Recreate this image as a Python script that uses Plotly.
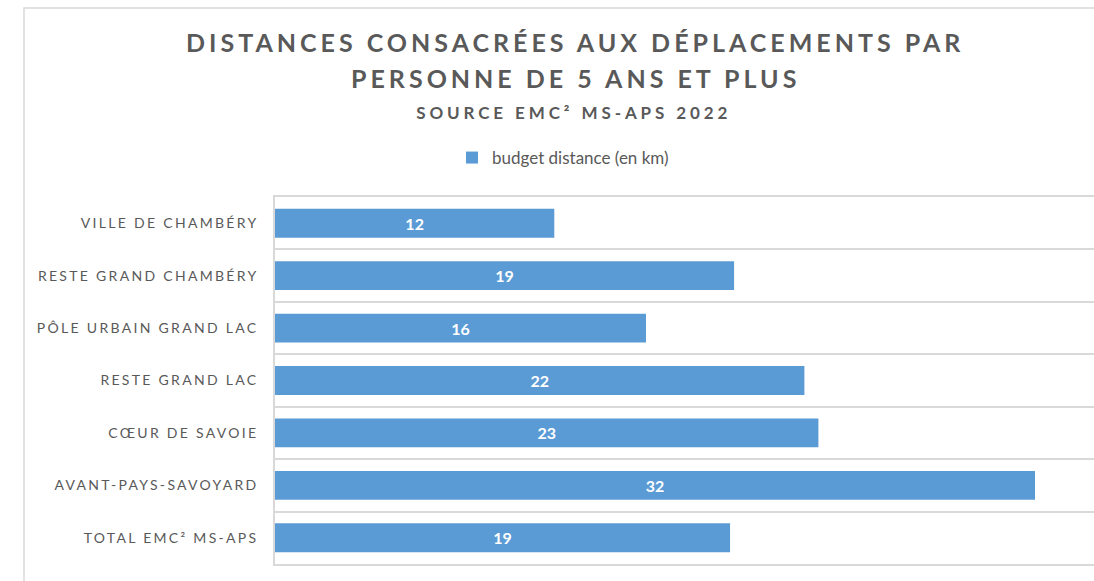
import plotly.graph_objects as go

categories = [
    "VILLE DE CHAMBÉRY",
    "RESTE GRAND CHAMBÉRY",
    "PÔLE URBAIN GRAND LAC",
    "RESTE GRAND LAC",
    "CŒUR DE SAVOIE",
    "AVANT-PAYS-SAVOYARD",
    "TOTAL EMC² MS-APS",
]
budget_km = [11.76, 19.33, 15.62, 22.29, 22.88, 32.0, 19.16]
series_name = "budget distance (en km)"
title_lines = ["DISTANCES CONSACRÉES AUX DÉPLACEMENTS PAR", "PERSONNE DE 5 ANS ET PLUS"]
subtitle = "SOURCE EMC² MS-APS 2022"

W, H = 1094, 581
L, T, B = 275, 197, 17
pw = W - L
ph = H - T - B

def px_x(x):
    return (x - L) / pw

def px_y(y):
    return 1 - (y - T) / ph

grey = "#595959"
font_family = "Lato, 'Open Sans', sans-serif"

fig = go.Figure()
fig.add_trace(go.Bar(
    y=categories, x=budget_km, orientation="h", name=series_name,
    marker=dict(color="#5B9BD5", line=dict(width=0)),
    texttemplate="%{x:.0f}", textposition="inside", insidetextanchor="middle",
    textfont=dict(color="white", size=16, family=font_family, weight="bold"),
    showlegend=True, hoverinfo="skip",
))

fig.update_layout(
    width=W, height=H,
    margin=dict(l=L, r=0, t=T, b=B, pad=0),
    paper_bgcolor="white", plot_bgcolor="white",
    bargap=0.45,
    font=dict(family=font_family, color=grey),
    showlegend=True,
    legend=dict(orientation="h", x=px_x(452), xanchor="left", y=px_y(158), yanchor="middle",
                font=dict(size=17, color=grey, family=font_family),
                itemwidth=30, bgcolor="rgba(0,0,0,0)"),
    xaxis=dict(range=[0, pw / 23.75], showgrid=False, showticklabels=False, zeroline=False,
               showline=True, mirror=True, linecolor="#D9D9D9", linewidth=1.5,
               ticks="", fixedrange=True),
    yaxis=dict(type="category", autorange="reversed", tickson="boundaries",
               showgrid=True, gridcolor="#D9D9D9", gridwidth=1.5,
               showline=True, linecolor="#D9D9D9", linewidth=1.5,
               ticks="", ticklabelstandoff=12, fixedrange=True,
               tickfont=dict(size=14, color=grey, family=font_family)),
)

fig.add_annotation(text=title_lines[0], xref="paper", yref="paper", x=px_x(575), y=px_y(42),
                   showarrow=False, xanchor="center", yanchor="middle",
                   font=dict(size=25, color=grey, family=font_family, weight="bold"))
fig.add_annotation(text=title_lines[1], xref="paper", yref="paper", x=px_x(575), y=px_y(78),
                   showarrow=False, xanchor="center", yanchor="middle",
                   font=dict(size=25, color=grey, family=font_family, weight="bold"))
fig.add_annotation(text=subtitle, xref="paper", yref="paper", x=px_x(574), y=px_y(112),
                   showarrow=False, xanchor="center", yanchor="middle",
                   font=dict(size=17, color=grey, family=font_family, weight="bold"))

# chart frame border
fig.add_shape(type="rect", xref="paper", yref="paper",
              x0=px_x(24), x1=px_x(W + 20), y0=px_y(H + 20), y1=px_y(8),
              line=dict(color="#D9D9D9", width=1.5), layer="below")

post = """
document.body.style.margin='0';
document.body.style.overflow='hidden';
function spaceText(){
  var gd=document.getElementById('{plot_id}');
  if(!gd) return;
  gd.querySelectorAll('.ytick text').forEach(function(t){t.style.letterSpacing='2.3px';});
  var anns=gd.querySelectorAll('.annotation-text');
  anns.forEach(function(t, i){t.style.letterSpacing = (i<2 ? '4px' : '3.9px');});
}
spaceText();
setTimeout(spaceText, 50);
setTimeout(spaceText, 300);
"""

fig.write_html("out.html", post_script=post, config={"displayModeBar": False})
